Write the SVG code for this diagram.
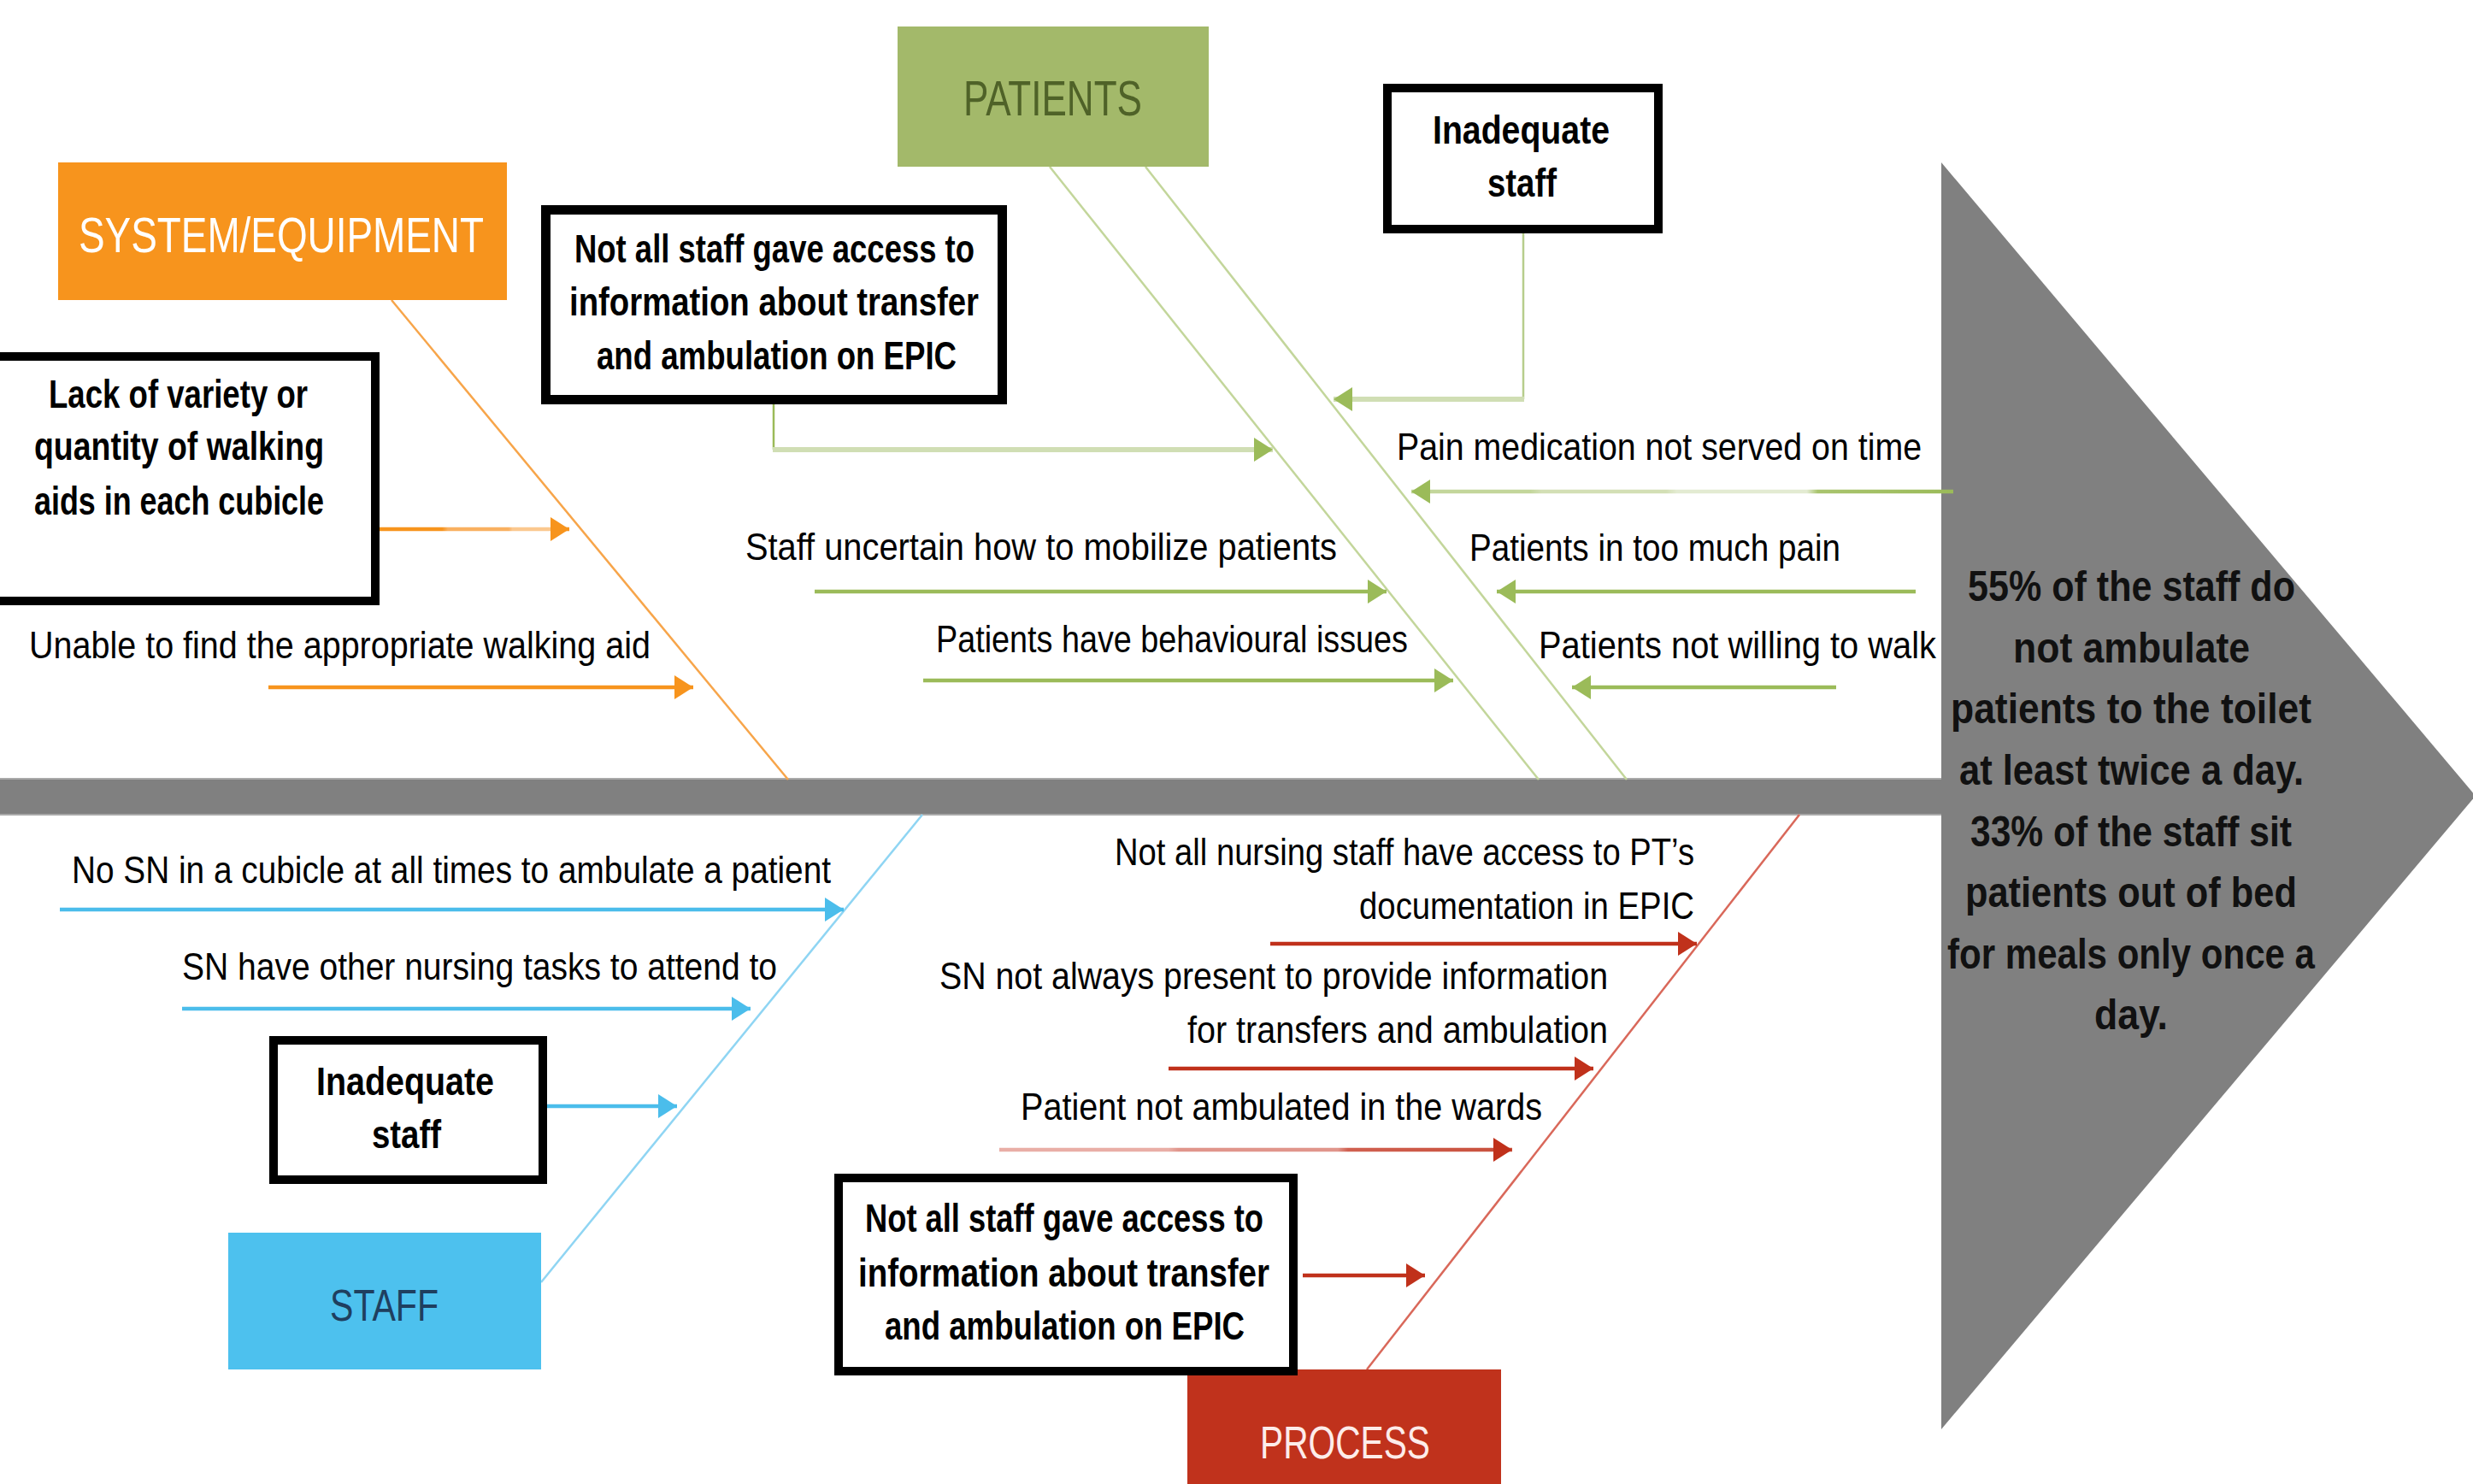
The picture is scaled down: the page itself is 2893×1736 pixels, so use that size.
<svg xmlns="http://www.w3.org/2000/svg" width="2893" height="1736" viewBox="0 0 2893 1736">
<style>
.t{font-family:'Liberation Sans',Arial,sans-serif;font-size:44px;fill:#000}
.b{font-family:'Liberation Sans',Arial,sans-serif;font-size:46px;font-weight:bold;fill:#000}
.tri{font-family:'Liberation Sans',Arial,sans-serif;font-size:50px;font-weight:bold;fill:#111}
.cat{font-family:'Liberation Sans',Arial,sans-serif;font-size:58px}
.box{fill:#fff;stroke:#000;stroke-width:10}
.diag{fill:none;stroke-width:2.5}
.arr{fill:none;stroke-width:4.5}
</style>
<defs>
<marker id="ah-o" markerUnits="userSpaceOnUse" markerWidth="24" markerHeight="30" refX="22" refY="14" orient="auto"><path d="M0,0 L22,14 L0,28 z" fill="#f7941d"/></marker>
<marker id="ah-g" markerUnits="userSpaceOnUse" markerWidth="24" markerHeight="30" refX="22" refY="14" orient="auto"><path d="M0,0 L22,14 L0,28 z" fill="#9bbb59"/></marker>
<marker id="ah-b" markerUnits="userSpaceOnUse" markerWidth="24" markerHeight="30" refX="22" refY="14" orient="auto"><path d="M0,0 L22,14 L0,28 z" fill="#4bbdeb"/></marker>
<marker id="ah-r" markerUnits="userSpaceOnUse" markerWidth="24" markerHeight="30" refX="22" refY="14" orient="auto"><path d="M0,0 L22,14 L0,28 z" fill="#c0311b"/></marker>
<linearGradient id="gr-o" gradientUnits="userSpaceOnUse" x1="444" y1="0" x2="666" y2="0">
<stop offset="0" stop-color="#f7941d"/><stop offset="0.33" stop-color="#f7941d"/><stop offset="0.36" stop-color="#f9b060"/><stop offset="0.68" stop-color="#f9b060"/><stop offset="0.7" stop-color="#fbc88f"/><stop offset="0.93" stop-color="#fbc88f"/><stop offset="0.95" stop-color="#f7a040"/><stop offset="1" stop-color="#f7941d"/>
</linearGradient>
<linearGradient id="gr-g" gradientUnits="userSpaceOnUse" x1="1651" y1="0" x2="2285" y2="0">
<stop offset="0" stop-color="#c3d69b"/><stop offset="0.22" stop-color="#c3d69b"/><stop offset="0.24" stop-color="#d3dfb5"/><stop offset="0.47" stop-color="#d3dfb5"/><stop offset="0.49" stop-color="#e3ebd2"/><stop offset="0.73" stop-color="#e3ebd2"/><stop offset="0.75" stop-color="#a9c46e"/><stop offset="1" stop-color="#9bbb59"/>
</linearGradient>
<linearGradient id="gr-r" gradientUnits="userSpaceOnUse" x1="1169" y1="0" x2="1769" y2="0">
<stop offset="0" stop-color="#e9aea6"/><stop offset="0.33" stop-color="#e9aea6"/><stop offset="0.35" stop-color="#e0958b"/><stop offset="0.66" stop-color="#e0958b"/><stop offset="0.68" stop-color="#d06050"/><stop offset="1" stop-color="#c8503c"/>
</linearGradient>
</defs>
<rect width="2893" height="1736" fill="#fff"/>

<g id="spine">
<rect x="0" y="911" width="2273" height="42" fill="#808080"/>
<line x1="0" y1="911" x2="2271" y2="911" stroke="#a9a9a9" stroke-width="2"/>
<line x1="0" y1="953" x2="2271" y2="953" stroke="#a9a9a9" stroke-width="2"/>
</g>

<g id="head">
<polygon points="2271,190 2896,931 2271,1672" fill="#808080"/>
<g class="tri" text-anchor="start">
<text x="2302" y="703" textLength="383" lengthAdjust="spacingAndGlyphs">55% of the staff do</text>
<text x="2355" y="775" textLength="277" lengthAdjust="spacingAndGlyphs">not ambulate</text>
<text x="2282" y="846" textLength="422" lengthAdjust="spacingAndGlyphs">patients to the toilet</text>
<text x="2292" y="918" textLength="403" lengthAdjust="spacingAndGlyphs">at least twice a day.</text>
<text x="2305" y="990" textLength="376" lengthAdjust="spacingAndGlyphs">33% of the staff sit</text>
<text x="2299" y="1061" textLength="388" lengthAdjust="spacingAndGlyphs">patients out of bed</text>
<text x="2278" y="1133" textLength="430" lengthAdjust="spacingAndGlyphs">for meals only once a</text>
<text x="2450" y="1204" textLength="86" lengthAdjust="spacingAndGlyphs">day.</text>
</g>
</g>

<g id="connectors">
<!-- bones -->
<line class="diag" x1="458" y1="351" x2="922" y2="912" stroke="#f7a54a"/>
<line class="diag" x1="1228" y1="195" x2="1800" y2="912" stroke="#c3d69b"/>
<line class="diag" x1="1340" y1="195" x2="1903" y2="912" stroke="#c3d69b"/>
<line class="diag" x1="633" y1="1500" x2="1079" y2="953" stroke="#8fd5f3"/>
<line class="diag" x1="1599" y1="1602" x2="2105" y2="953" stroke="#d9685a"/>
<!-- system/equipment -->
<line class="arr" x1="444" y1="619" x2="666" y2="619" stroke="url(#gr-o)" marker-end="url(#ah-o)"/>
<line class="arr" x1="314" y1="804" x2="811" y2="804" stroke="#f7941d" marker-end="url(#ah-o)"/>
<!-- patients -->
<polyline points="905,473 905,526" fill="none" stroke="#9bbb59" stroke-width="2.5"/>
<line x1="904" y1="526" x2="1489" y2="526" stroke="#d0deb4" stroke-width="6" marker-end="url(#ah-g)"/>
<polyline points="1782,273 1782,467" fill="none" stroke="#b7cd8c" stroke-width="2.5"/>
<line x1="1783" y1="467" x2="1560" y2="467" stroke="#d0deb4" stroke-width="6" marker-end="url(#ah-g)"/>
<line class="arr" x1="953" y1="692" x2="1622" y2="692" stroke="#9bbb59" marker-end="url(#ah-g)"/>
<line class="arr" x1="1080" y1="796" x2="1700" y2="796" stroke="#9bbb59" marker-end="url(#ah-g)"/>
<line class="arr" x1="2285" y1="575" x2="1651" y2="575" stroke="url(#gr-g)" marker-end="url(#ah-g)"/>
<line class="arr" x1="2241" y1="692" x2="1751" y2="692" stroke="#9bbb59" marker-end="url(#ah-g)"/>
<line class="arr" x1="2148" y1="804" x2="1839" y2="804" stroke="#9bbb59" marker-end="url(#ah-g)"/>
<!-- staff -->
<line class="arr" x1="70" y1="1064" x2="987" y2="1064" stroke="#4bbdeb" marker-end="url(#ah-b)"/>
<line class="arr" x1="213" y1="1180" x2="878" y2="1180" stroke="#4bbdeb" marker-end="url(#ah-b)"/>
<line class="arr" x1="640" y1="1294" x2="792" y2="1294" stroke="#4bbdeb" marker-end="url(#ah-b)"/>
<!-- process -->
<line class="arr" x1="1486" y1="1104" x2="1985" y2="1104" stroke="#c0311b" marker-end="url(#ah-r)"/>
<line class="arr" x1="1367" y1="1250" x2="1864" y2="1250" stroke="#c0311b" marker-end="url(#ah-r)"/>
<line class="arr" x1="1169" y1="1345" x2="1769" y2="1345" stroke="url(#gr-r)" marker-end="url(#ah-r)"/>
<line class="arr" x1="1524" y1="1492" x2="1667" y2="1492" stroke="#c0311b" marker-end="url(#ah-r)"/>
</g>

<g id="cat-system">
<rect x="68" y="190" width="525" height="161" fill="#f7941d"/>
<text class="cat" x="92" y="295" fill="#fff" textLength="474" lengthAdjust="spacingAndGlyphs">SYSTEM/EQUIPMENT</text>
</g>
<g id="cat-patients">
<rect x="1050" y="31" width="364" height="164" fill="#a3b96a"/>
<text class="cat" x="1127" y="135" fill="#4f6228" textLength="209" lengthAdjust="spacingAndGlyphs">PATIENTS</text>
</g>
<g id="cat-staff">
<rect x="267" y="1442" width="366" height="160" fill="#4dc1ee"/>
<text class="cat" x="386" y="1545" fill="#1f3f5f" style="font-size:52px" textLength="127" lengthAdjust="spacingAndGlyphs">STAFF</text>
</g>
<g id="cat-process">
<rect x="1389" y="1602" width="367" height="140" fill="#c0321c"/>
<text class="cat" x="1474" y="1706" fill="#fdecea" style="font-size:53px" textLength="199" lengthAdjust="spacingAndGlyphs">PROCESS</text>
</g>

<g id="box-lack-walking-aids">
<rect class="box" x="-20" y="417" width="459" height="286"/>
<text class="b" x="57" y="477" textLength="303" lengthAdjust="spacingAndGlyphs">Lack of variety or</text>
<text class="b" x="40" y="538" textLength="339" lengthAdjust="spacingAndGlyphs">quantity of walking</text>
<text class="b" x="40" y="602" textLength="339" lengthAdjust="spacingAndGlyphs">aids in each cubicle</text>
</g>
<g id="lbl-unable-walking-aid">
<text class="t" x="34" y="770" textLength="727" lengthAdjust="spacingAndGlyphs">Unable to find the appropriate walking aid</text>
</g>

<g id="box-epic-top">
<rect class="box" x="638.5" y="245.5" width="534" height="222" style="stroke-width:11"/>
<text class="b" x="672" y="307" textLength="468" lengthAdjust="spacingAndGlyphs">Not all staff gave access to</text>
<text class="b" x="666" y="369" textLength="479" lengthAdjust="spacingAndGlyphs">information about transfer</text>
<text class="b" x="698" y="432" textLength="421" lengthAdjust="spacingAndGlyphs">and ambulation on EPIC</text>
</g>
<g id="box-inadequate-top">
<rect class="box" x="1623" y="103" width="317" height="165"/>
<text class="b" x="1676" y="168" textLength="207" lengthAdjust="spacingAndGlyphs">Inadequate</text>
<text class="b" x="1740" y="230" textLength="81" lengthAdjust="spacingAndGlyphs">staff</text>
</g>
<g id="lbl-staff-uncertain"><text class="t" x="872" y="655" textLength="692" lengthAdjust="spacingAndGlyphs">Staff uncertain how to mobilize patients</text></g>
<g id="lbl-behavioural"><text class="t" x="1095" y="763" textLength="552" lengthAdjust="spacingAndGlyphs">Patients have behavioural issues</text></g>
<g id="lbl-pain-medication"><text class="t" x="1634" y="538" textLength="614" lengthAdjust="spacingAndGlyphs">Pain medication not served on time</text></g>
<g id="lbl-too-much-pain"><text class="t" x="1719" y="656" textLength="434" lengthAdjust="spacingAndGlyphs">Patients in too much pain</text></g>
<g id="lbl-not-willing"><text class="t" x="1800" y="770" textLength="465" lengthAdjust="spacingAndGlyphs">Patients not willing to walk</text></g>

<g id="lbl-no-sn"><text class="t" x="84" y="1033" textLength="888" lengthAdjust="spacingAndGlyphs">No SN in a cubicle at all times to ambulate a patient</text></g>
<g id="lbl-sn-other-tasks"><text class="t" x="213" y="1146" textLength="696" lengthAdjust="spacingAndGlyphs">SN have other nursing tasks to attend to</text></g>
<g id="box-inadequate-bottom">
<rect class="box" x="320" y="1217" width="315" height="163"/>
<text class="b" x="370" y="1281" textLength="208" lengthAdjust="spacingAndGlyphs">Inadequate</text>
<text class="b" x="435" y="1343" textLength="81" lengthAdjust="spacingAndGlyphs">staff</text>
</g>

<g id="lbl-nursing-access">
<text class="t" x="1304" y="1012" textLength="678" lengthAdjust="spacingAndGlyphs">Not all nursing staff have access to PT’s</text>
<text class="t" x="1590" y="1075" textLength="392" lengthAdjust="spacingAndGlyphs">documentation in EPIC</text>
</g>
<g id="lbl-sn-not-present">
<text class="t" x="1099" y="1157" textLength="782" lengthAdjust="spacingAndGlyphs">SN not always present to provide information</text>
<text class="t" x="1389" y="1220" textLength="492" lengthAdjust="spacingAndGlyphs">for transfers and ambulation</text>
</g>
<g id="lbl-not-ambulated"><text class="t" x="1194" y="1310" textLength="610" lengthAdjust="spacingAndGlyphs">Patient not ambulated in the wards</text></g>
<g id="box-epic-bottom">
<rect class="box" x="981" y="1378" width="532" height="226"/>
<text class="b" x="1012" y="1441" textLength="466" lengthAdjust="spacingAndGlyphs">Not all staff gave access to</text>
<text class="b" x="1004" y="1505" textLength="481" lengthAdjust="spacingAndGlyphs">information about transfer</text>
<text class="b" x="1035" y="1567" textLength="421" lengthAdjust="spacingAndGlyphs">and ambulation on EPIC</text>
</g>
</svg>
